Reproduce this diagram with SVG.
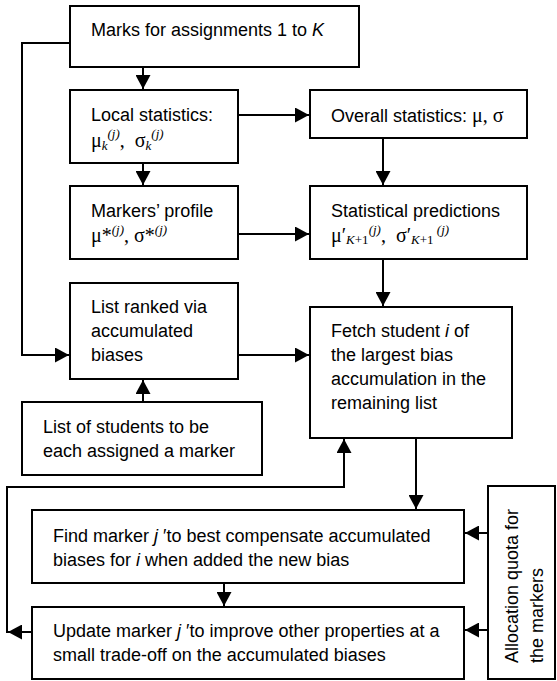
<svg xmlns="http://www.w3.org/2000/svg" width="557" height="681" viewBox="0 0 557 681">
<style>
.box{fill:#fff;stroke:#000;stroke-width:2}
.t{font-family:"Liberation Sans",Arial,sans-serif;font-size:18px;fill:#000}
.m{font-family:"Liberation Serif","Times New Roman",serif;font-size:20px}
.s{font-family:"Liberation Serif","Times New Roman",serif;font-size:13px;font-style:italic}
.su{font-family:"Liberation Serif","Times New Roman",serif;font-size:13px}
.i{font-style:italic}
.c{fill:none;stroke:#000;stroke-width:2}
</style>
<defs>
<marker id="ah" markerUnits="userSpaceOnUse" markerWidth="14" markerHeight="15" refX="14" refY="7.5" orient="auto">
<path d="M0,0 L14,7.5 L0,15 z" fill="#000"/>
</marker>
</defs>
<g id="connectors">
<path class="c" d="M143,67 V89" marker-end="url(#ah)"/>
<path class="c" d="M70,43 H22 V355 H69" marker-end="url(#ah)"/>
<path class="c" d="M143,163 V185" marker-end="url(#ah)"/>
<path class="c" d="M238,115 H309" marker-end="url(#ah)"/>
<path class="c" d="M383,138 V185" marker-end="url(#ah)"/>
<path class="c" d="M238,234 H309" marker-end="url(#ah)"/>
<path class="c" d="M383,259 V306" marker-end="url(#ah)"/>
<path class="c" d="M238,355 H309" marker-end="url(#ah)"/>
<path class="c" d="M143,402 V380" marker-end="url(#ah)"/>
<path class="c" d="M416,438 V509" marker-end="url(#ah)"/>
<path class="c" d="M224,583 V606" marker-end="url(#ah)"/>
<path class="c" d="M488,533 H465" marker-end="url(#ah)"/>
<path class="c" d="M488,630 H465" marker-end="url(#ah)"/>
<path class="c" d="M32,632 H8" marker-end="url(#ah)"/>
<path class="c" d="M7,633 V487 H344 V439" marker-end="url(#ah)"/>
</g>
<g id="marks">
<rect class="box" x="70" y="6" width="289" height="61"/>
<text class="t" x="91" y="36">Marks for assignments 1 to <tspan class="i">K</tspan></text>
</g>
<g id="local">
<rect class="box" x="70" y="90" width="168" height="73"/>
<text class="t" x="91" y="121">Local statistics:</text>
<text class="t" x="91" y="147"><tspan class="m">μ</tspan><tspan class="s" dy="3">k</tspan><tspan class="s" dy="-12">(j)</tspan><tspan class="m" dy="9">,&#160; σ</tspan><tspan class="s" dy="3">k</tspan><tspan class="s" dy="-12">(j)</tspan></text>
</g>
<g id="overall">
<rect class="box" x="310" y="90" width="217" height="48"/>
<text class="t" x="331" y="122">Overall statistics: <tspan class="m">μ, σ</tspan></text>
</g>
<g id="profile">
<rect class="box" x="70" y="186" width="168" height="73"/>
<text class="t" x="91" y="217">Markers’ profile</text>
<text class="t" x="91" y="242"><tspan class="m">μ*</tspan><tspan class="s" dy="-8">(j)</tspan><tspan class="m" dy="8">, σ*</tspan><tspan class="s" dy="-8">(j)</tspan></text>
</g>
<g id="predictions">
<rect class="box" x="310" y="186" width="217" height="73"/>
<text class="t" x="331" y="217">Statistical predictions</text>
<text class="t" x="331" y="242"><tspan class="m">μ′</tspan><tspan class="s" dy="2">K</tspan><tspan class="su">+1</tspan><tspan class="s" dy="-10">(j)</tspan><tspan class="m" dy="8">,&#160; σ′</tspan><tspan class="s" dy="2">K</tspan><tspan class="su">+1</tspan><tspan class="s" dy="-10">&#160;(j)</tspan></text>
</g>
<g id="ranked">
<rect class="box" x="70" y="283" width="168" height="96"/>
<text class="t" x="91" y="313">List ranked via</text>
<text class="t" x="91" y="337">accumulated</text>
<text class="t" x="91" y="361">biases</text>
</g>
<g id="fetch">
<rect class="box" x="310" y="307" width="202" height="131"/>
<text class="t" x="331" y="337">Fetch student <tspan class="i">i</tspan> of</text>
<text class="t" x="331" y="361">the largest bias</text>
<text class="t" x="331" y="385">accumulation in the</text>
<text class="t" x="331" y="409">remaining list</text>
</g>
<g id="students">
<rect class="box" x="22" y="402" width="240" height="73"/>
<text class="t" x="43" y="433">List of students to be</text>
<text class="t" x="43" y="457">each assigned a marker</text>
</g>
<g id="find">
<rect class="box" x="32" y="510" width="432" height="73"/>
<text class="t" x="53" y="542">Find marker <tspan class="i">j</tspan> ′to best compensate accumulated</text>
<text class="t" x="53" y="566">biases for <tspan class="i">i</tspan> when added the new bias</text>
</g>
<g id="update">
<rect class="box" x="32" y="607" width="432" height="72"/>
<text class="t" x="53" y="637">Update marker <tspan class="i">j</tspan> ′to improve other properties at a</text>
<text class="t" x="53" y="661">small trade-off on the accumulated biases</text>
</g>
<g id="quota">
<rect class="box" x="488" y="486" width="67" height="193"/>
<text class="t" transform="translate(518,663) rotate(-90)" x="0" y="0">Allocation quota for</text>
<text class="t" transform="translate(543,663) rotate(-90)" x="0" y="0">the markers</text>
</g>
</svg>
